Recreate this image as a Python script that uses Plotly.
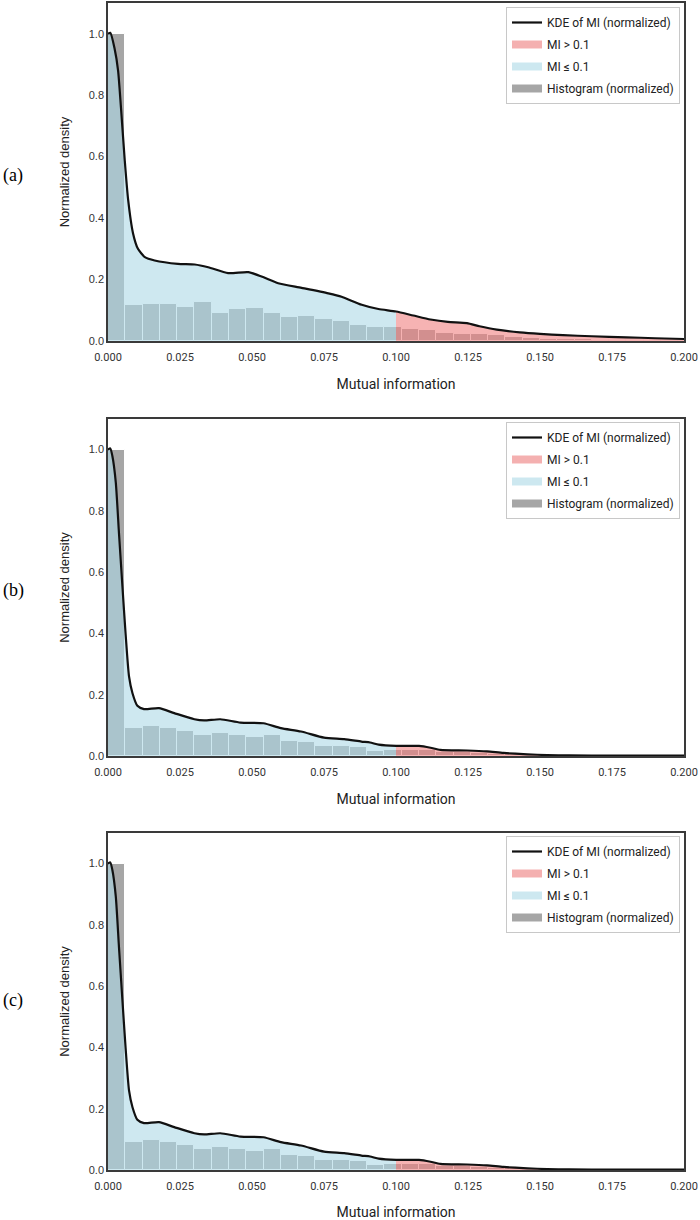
import plotly.graph_objects as go

# ---------------- data ----------------
bin_width = 0.006
hist_a = [1.0, 0.118, 0.122, 0.119, 0.111, 0.128, 0.091, 0.104, 0.109, 0.091,
          0.077, 0.081, 0.072, 0.064, 0.052, 0.047, 0.046, 0.039, 0.037, 0.027,
          0.024, 0.024, 0.0185, 0.012, 0.011, 0.0076, 0.0076, 0.0054, 0.0044,
          0.0044, 0.003, 0.002, 0.002, 0.002]
hist_b = [1.0, 0.093, 0.098, 0.093, 0.083, 0.070, 0.074, 0.067, 0.063, 0.067,
          0.049, 0.046, 0.034, 0.034, 0.031, 0.017, 0.021, 0.020, 0.019, 0.012,
          0.012, 0.011, 0.008, 0.005, 0.004, 0.002, 0.0015, 0.001, 0.001,
          0.0008, 0.0006, 0.0005, 0.0004, 0.0004]
hist_c = list(hist_b)

kde_a_x = [0, 0.0008, 0.0023, 0.0035, 0.0045, 0.0058, 0.007, 0.0087, 0.0104,
           0.0128, 0.0162, 0.0243, 0.0301, 0.0348, 0.0417, 0.0487, 0.0533,
           0.0591, 0.0672, 0.0765, 0.0811, 0.0881, 0.0939, 0.1, 0.106, 0.112,
           0.118, 0.1246, 0.129, 0.135, 0.143, 0.15, 0.158, 0.168, 0.18, 0.19, 0.2]
kde_a_y = [1.0, 1.003, 0.951, 0.88, 0.76, 0.59, 0.459, 0.35, 0.30, 0.273,
           0.262, 0.251, 0.249, 0.24, 0.221, 0.224, 0.21, 0.188, 0.173, 0.155,
           0.144, 0.118, 0.104, 0.096, 0.083, 0.07, 0.062, 0.058, 0.048, 0.037,
           0.028, 0.023, 0.019, 0.0155, 0.012, 0.009, 0.0065]

kde_b_x = [0, 0.0008, 0.0015, 0.0027, 0.0038, 0.005, 0.0061, 0.0073, 0.0085,
           0.0102, 0.0125, 0.0177, 0.023, 0.03, 0.0334, 0.039, 0.046, 0.054,
           0.06, 0.067, 0.075, 0.082, 0.088, 0.091, 0.094, 0.1, 0.108, 0.112,
           0.1154, 0.1247, 0.1316, 0.1373, 0.1456, 0.1525, 0.16, 0.175, 0.2]
kde_b_y = [1.0, 1.004, 0.98, 0.893, 0.729, 0.555, 0.40, 0.26, 0.205, 0.164,
           0.153, 0.156, 0.14, 0.12, 0.116, 0.12, 0.109, 0.107, 0.091, 0.08,
           0.06, 0.055, 0.047, 0.044, 0.037, 0.033, 0.033, 0.027, 0.02, 0.018,
           0.015, 0.01, 0.0054, 0.003, 0.002, 0.001, 0.001]
kde_c_x = list(kde_b_x)
kde_c_y = list(kde_b_y)

threshold = 0.1
x_ticks = [0.0, 0.025, 0.05, 0.075, 0.1, 0.125, 0.15, 0.175, 0.2]
x_tick_text = ["0.000", "0.025", "0.050", "0.075", "0.100", "0.125", "0.150", "0.175", "0.200"]
y_ticks = [0.0, 0.2, 0.4, 0.6, 0.8, 1.0]
y_tick_text = ["0.0", "0.2", "0.4", "0.6", "0.8", "1.0"]
panel_labels = ["(a)", "(b)", "(c)"]
legend_names = ["KDE of MI (normalized)", "MI > 0.1", "MI \u2264 0.1", "Histogram (normalized)"]

# ---------------- styles ----------------
W, H = 700, 1220
BLUE_FILL = "rgba(173,216,230,0.6)"
RED_FILL = "rgba(240,128,128,0.6)"
HIST = "rgba(128,128,128,0.7)"
FRAME = "#3a3a3a"

# pixel boxes of the three plot areas (left, top, right, bottom)
boxes = [(108, 3, 684, 341), (108, 419, 684, 756), (108, 833, 684, 1170)]
label_y = [175, 590, 1000]
legend_top = [7, 422, 836]

fig = go.Figure()
panels = [(hist_a, kde_a_x, kde_a_y), (hist_b, kde_b_x, kde_b_y), (hist_c, kde_c_x, kde_c_y)]

for i, (hist, kx, ky) in enumerate(panels):
    sfx = "" if i == 0 else str(i + 1)
    xa, ya = "x" + sfx, "y" + sfx
    leg = "legend" + sfx
    centers = [bin_width * (k + 0.5) for k in range(len(hist))]
    fig.add_trace(go.Bar(x=centers, y=hist, width=bin_width, xaxis=xa, yaxis=ya,
                         marker=dict(color=HIST, line=dict(color="white", width=1)),
                         showlegend=False, hoverinfo="skip"))
    bx = [x for x in kx if x <= threshold]
    by = [y for x, y in zip(kx, ky) if x <= threshold]
    rx = [x for x in kx if x >= threshold]
    ry = [y for x, y in zip(kx, ky) if x >= threshold]
    fig.add_trace(go.Scatter(x=bx, y=by, xaxis=xa, yaxis=ya, mode="lines",
                             line=dict(width=0, shape="spline", smoothing=0.6),
                             fill="tozeroy", fillcolor=BLUE_FILL, showlegend=False,
                             hoverinfo="skip"))
    fig.add_trace(go.Scatter(x=rx, y=ry, xaxis=xa, yaxis=ya, mode="lines",
                             line=dict(width=0, shape="spline", smoothing=0.6),
                             fill="tozeroy", fillcolor=RED_FILL, showlegend=False,
                             hoverinfo="skip"))
    fig.add_trace(go.Scatter(x=kx, y=ky, xaxis=xa, yaxis=ya, mode="lines",
                             line=dict(color="#111111", width=2.2, shape="spline", smoothing=0.6),
                             showlegend=False, hoverinfo="skip"))
    # legend entries
    for j, (name, col, wd) in enumerate(zip(legend_names,
                                            ["#111111", "#f4b0b0", "#cde8f0", "#a6a6a6"],
                                            [2.2, 8, 8, 8])):
        fig.add_trace(go.Scatter(x=[None], y=[None], xaxis=xa, yaxis=ya, mode="lines",
                                 line=dict(color=col, width=wd), name=name,
                                 legend=leg, legendgroup=f"g{i}{j}", showlegend=True))

    l, t, r, b = boxes[i]
    fig.layout["xaxis" + sfx] = dict(
        domain=[l / W, r / W], anchor=ya, range=[0, 0.2],
        tickvals=x_ticks, ticktext=x_tick_text, ticks="outside", ticklen=5,
        tickcolor="rgba(0,0,0,0)", showgrid=False,
        zeroline=False, showline=True, linecolor=FRAME, linewidth=1.5, mirror=True,
        tickfont=dict(family="Roboto", size=11, color="#333333"),
        title=dict(text="Mutual information", standoff=16,
                   font=dict(family="Roboto", size=14, color="#222222")),
        automargin=False, fixedrange=True)
    fig.layout["yaxis" + sfx] = dict(
        domain=[1 - b / H, 1 - t / H], anchor=xa, range=[0, 1.1],
        tickvals=y_ticks, ticktext=y_tick_text, ticks="", showgrid=False,
        zeroline=False, showline=True, linecolor=FRAME, linewidth=1.5, mirror=True,
        tickfont=dict(family="Liberation Sans", size=11, color="#333333"),
        title=dict(text="Normalized density", standoff=16,
                   font=dict(family="Liberation Sans", size=13, color="#222222")),
        automargin=False, fixedrange=True)
    fig.layout[leg] = dict(
        x=680 / W, xanchor="right", y=1 - legend_top[i] / H, yanchor="top",
        bgcolor="white", bordercolor="#c8c8c8", borderwidth=1,
        font=dict(family="Roboto", size=12, color="#222222"),
        itemwidth=30, tracegroupgap=3)
    fig.add_annotation(text=panel_labels[i], x=1 / W, y=1 - label_y[i] / H,
                       xref="paper", yref="paper", xanchor="left", yanchor="middle",
                       showarrow=False,
                       font=dict(family="Liberation Serif", size=18, color="#000000"))

fig.update_layout(width=W, height=H, margin=dict(l=0, r=0, t=0, b=0),
                  paper_bgcolor="white", plot_bgcolor="white",
                  barmode="overlay", bargap=0, showlegend=True)
fig.write_html("out.html")
